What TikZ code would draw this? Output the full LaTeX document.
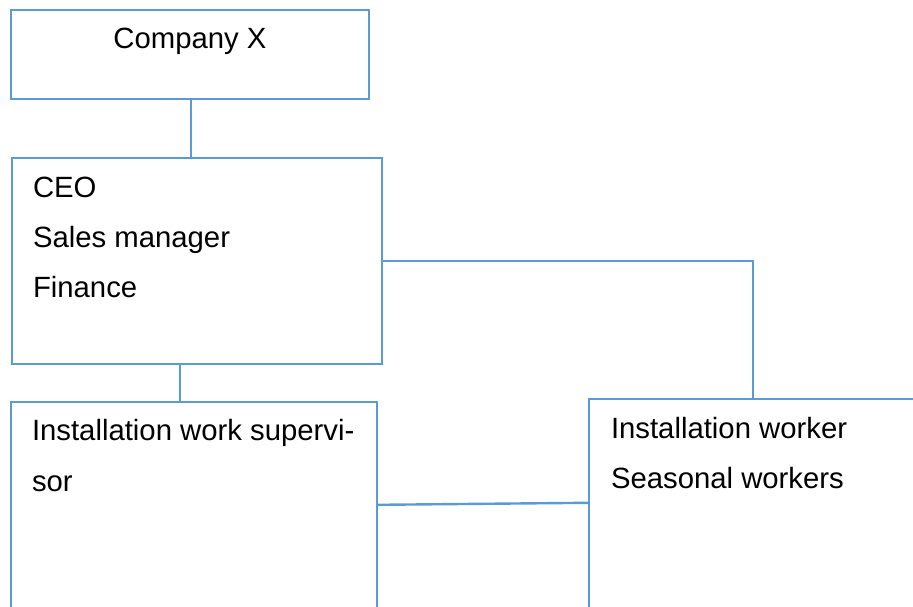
\documentclass[tikz,border=0pt]{standalone}
\usepackage{fontspec}
\setmainfont{Liberation Sans}
\usepackage{tikz}
\usetikzlibrary{calc, positioning}
\definecolor{boxblue}{RGB}{91,155,213}

\tikzset{
  orgbox/.style={draw=boxblue, line width=2.4pt, inner sep=0pt},
  link/.style={draw=boxblue, line width=2.4pt},
  txt/.style={inner sep=0pt, anchor=base west, font=\fontsize{29.3}{34}\selectfont}
}

\begin{document}
\begin{tikzpicture}[x=1pt, y=-1pt]
  \useasboundingbox (0,0) rectangle (913,606);
  \clip (0,0) rectangle (913,606);

  % boxes
  \node[orgbox, minimum width=358, minimum height=89] (company) at (190,54.5) {};
  \node[orgbox, minimum width=370, minimum height=206] (ceo) at (197,261) {};
  \node[orgbox, minimum width=366, minimum height=210] (sup) at (194,507) {};
  \node[orgbox, minimum width=328, minimum height=212] (worker) at (753,505) {};

  % texts
  \node[txt, anchor=base] (company-t) at ($(company.north)+(0,40)$) {Company X};
  \foreach \line [count=\i from 0] in {CEO, Sales manager, Finance}
    \node[txt] (ceo-\i) at ($(ceo.north west)+(22,41+50*\i)$) {\line};
  \foreach \line [count=\i from 0] in {Installation work supervi-, sor}
    \node[txt] (sup-\i) at ($(sup.north west)+(22,40+51*\i)$) {\line};
  \foreach \line [count=\i from 0] in {Installation worker, Seasonal workers}
    \node[txt] (worker-\i) at ($(worker.north west)+(23,41+50*\i)$) {\line};

  % connectors
  \coordinate (ceo-top) at (company.south -| 191,0);
  \draw[link] (ceo-top) -- (ceo-top |- ceo.north);
  \draw[link] (ceo.east) -| (worker.north);
  \coordinate (ceo-bot) at ($(ceo.south west)!0.454!(ceo.south east)$);
  \draw[link] (ceo-bot) -- (ceo-bot |- sup.north);
  \draw[link] ($(sup.north east)+(0,104)$) -- ($(worker.north west)+(0,105)$);
\end{tikzpicture}
\end{document}
